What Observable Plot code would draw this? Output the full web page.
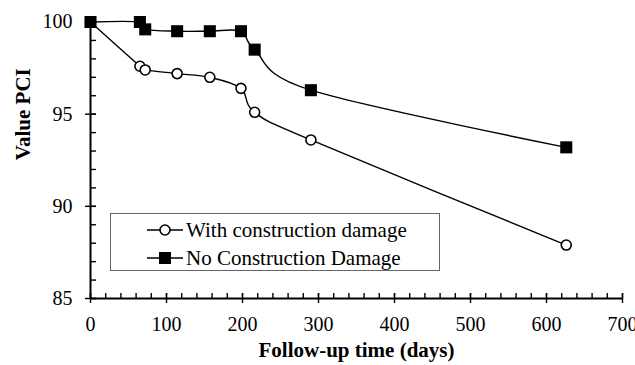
<!DOCTYPE html>
<html><head><meta charset="utf-8">
<script src="https://cdn.jsdelivr.net/npm/d3@7"></script>
<script src="https://cdn.jsdelivr.net/npm/@observablehq/plot@0.6"></script>
<style>
body{margin:0;background:#fff;}
#wrap{position:relative;width:635px;height:365px;font-family:"Liberation Serif","Times New Roman",serif;overflow:hidden;}
.legend{position:absolute;left:110px;top:213px;width:330px;height:58px;border:1px solid #666;box-sizing:border-box;background:#fff;}
.legend .row{position:absolute;left:0;height:28px;width:100%;}
.legend svg{position:absolute;left:35px;top:0;}
.legend span{position:absolute;left:75px;top:0;line-height:28px;font-size:21px;color:#000;white-space:nowrap;}
</style></head><body><div id="wrap"></div>
<script>
const days = [0, 65, 72, 114, 157, 198, 216, 290, 626];
const withDamage = [100, 97.6, 97.4, 97.2, 97.0, 96.4, 95.1, 93.6, 87.9];
const noDamage = [100, 100, 99.6, 99.5, 99.5, 99.5, 98.5, 96.3, 93.2];
const seriesNames = ["With construction damage", "No Construction Damage"];
const xTicks = [0, 100, 200, 300, 400, 500, 600, 700];
const xMinor = d3.range(0, 701, 20);
const yTicks = [85, 90, 95, 100];
const yMinor = d3.range(85, 100.5, 1);
const xLabel = "Follow-up time (days)";
const yLabel = "Value PCI";

const circles = days.map((d, i) => ({day: d, pci: withDamage[i], s: seriesNames[0]}));
const squares = days.map((d, i) => ({day: d, pci: noDamage[i], s: seriesNames[1]}));

// layout
const W = 635, H = 365, mL = 90, mR = 13, mT = 21.5, mB = 67;
const xDomain = [0, 700], yDomain = [85, 100];
const pxPerX = (W - mL - mR) / (xDomain[1] - xDomain[0]);
const pxPerY = (H - mT - mB) / (yDomain[1] - yDomain[0]);
const ty = 5 / pxPerY, tyo = 5 / pxPerY;   // x-axis ticks: 5px in, 5px out
const tx = 6 / pxPerX, txo = 5 / pxPerX;   // y-axis ticks: 6px in, 5px out

const smooth = d3.curveCardinal.tension(0);

const plot = Plot.plot({
  width: W, height: H,
  marginLeft: mL, marginRight: mR, marginTop: mT, marginBottom: mB,
  style: {fontFamily: "'Liberation Serif','Times New Roman',serif", fontSize: "20px", color: "#000", background: "#fff", overflow: "visible"},
  x: {domain: xDomain},
  y: {domain: yDomain},
  marks: [
    // inward minor ticks
    Plot.ruleX(xMinor, {x: d => d, y1: yDomain[0], y2: yDomain[0] + ty, strokeWidth: 1.4}),
    Plot.ruleY(yMinor, {y: d => d, x1: xDomain[0], x2: xDomain[0] + tx, strokeWidth: 1.4}),
    // major ticks crossing the axis
    Plot.ruleX(xTicks, {x: d => d, y1: yDomain[0] - tyo, y2: yDomain[0] + ty, strokeWidth: 1.4}),
    Plot.ruleY(yTicks, {y: d => d, x1: xDomain[0] - txo, x2: xDomain[0] + tx, strokeWidth: 1.4}),
    Plot.axisX(xTicks, {tickSize: 0, tickPadding: 18, label: null, fontSize: 20}),
    Plot.axisY(yTicks, {tickSize: 0, tickPadding: 18, label: null, fontSize: 20}),
    Plot.ruleY([yDomain[0]], {strokeWidth: 2}),
    Plot.ruleX([xDomain[0]], {strokeWidth: 2}),
    Plot.text([xLabel], {frameAnchor: "bottom", dy: 52, fontWeight: "bold", fontSize: 21, lineAnchor: "middle"}),
    Plot.text([yLabel], {frameAnchor: "left", dx: -67, rotate: -90, fontWeight: "bold", fontSize: 21, lineAnchor: "middle"}),
    Plot.line(circles, {x: "day", y: "pci", curve: smooth, stroke: "#000", strokeWidth: 1.4}),
    Plot.line(squares, {x: "day", y: "pci", curve: smooth, stroke: "#000", strokeWidth: 1.4}),
    Plot.dot(circles, {x: "day", y: "pci", r: 5, fill: "#fff", stroke: "#000", strokeWidth: 1.6}),
    Plot.dot(squares, {x: "day", y: "pci", symbol: "square", r: 6.8, fill: "#000"})
  ]
});
const wrap = document.getElementById("wrap");
wrap.appendChild(plot);

const legend = document.createElement("div");
legend.className = "legend";
const rowTops = [2, 30];
seriesNames.forEach((name, i) => {
  const row = document.createElement("div");
  row.className = "row";
  row.style.top = rowTops[i] + "px";
  const marker = i === 0
    ? '<circle cx="19" cy="14" r="5" fill="#fff" stroke="#000" stroke-width="1.6"/>'
    : '<rect x="13" y="8" width="12" height="12" fill="#000"/>';
  row.innerHTML = '<svg width="38" height="28"><line x1="1" x2="37" y1="14" y2="14" stroke="#000" stroke-width="1.4"/>' + marker + '</svg><span></span>';
  row.querySelector("span").textContent = name;
  legend.appendChild(row);
});
wrap.appendChild(legend);
</script>
</body></html>
